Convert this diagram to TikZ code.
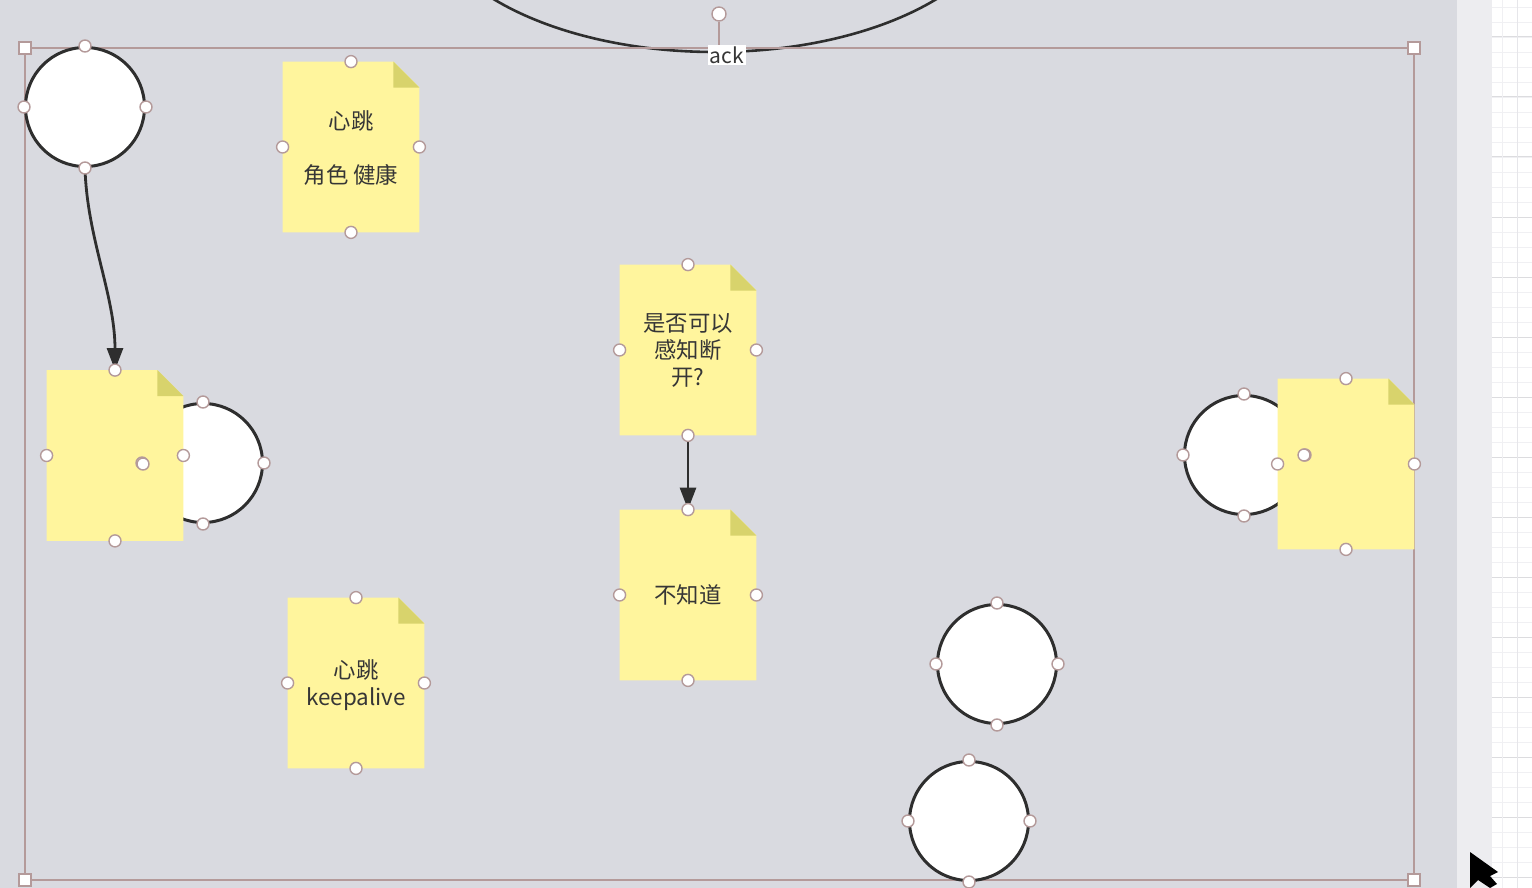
\documentclass[tikz,border=0pt]{standalone}
\usepackage{fontspec}
\newfontfamily\cjk{Noto Sans CJK SC}
\usetikzlibrary{arrows.meta,shapes.geometric}
\definecolor{canvas}{HTML}{D9DAE0}
\definecolor{strip}{HTML}{EDEDF0}
\definecolor{gridc}{HTML}{E6E6EA}
\definecolor{notefill}{HTML}{FFF59D}
\definecolor{notefold}{HTML}{D8D36C}
\definecolor{selc}{HTML}{B49A9A}
\definecolor{ink}{HTML}{2E2E2E}
\definecolor{txt}{HTML}{363636}
\tikzset{
  notebox/.style={rectangle, minimum width=68pt, minimum height=85pt, inner sep=0pt,
    font=\cjk\fontsize{11.2}{13.5}\selectfont, text=txt, align=center},
  ring/.style={circle, draw=ink, line width=1.5pt, fill=white, minimum size=59.5pt, inner sep=0pt},
  handle/.style={circle, draw=selc, fill=white, line width=0.7pt, minimum size=6pt, inner sep=0pt},
  sqhandle/.style={rectangle, draw=selc, fill=white, line width=0.7pt, minimum size=6pt, inner sep=0pt},
  link/.style={draw=ink, line width=1.4pt, -{Triangle[length=11pt,width=8pt]}}
}
\newcommand\drawsticky[1]{%
  \fill[notefill] (#1.north west) -- ([xshift=-13pt]#1.north east) -- ([yshift=-13pt]#1.north east) -- (#1.south east) -- (#1.south west) -- cycle;
  \fill[notefold] ([xshift=-13pt]#1.north east) -- ([xshift=-13pt,yshift=-13pt]#1.north east) -- ([yshift=-13pt]#1.north east) -- cycle;
}
\begin{document}
\begin{tikzpicture}[x=0.5pt,y=-0.5pt]
\useasboundingbox (0,0) rectangle (1532,888);
\clip (0,0) rectangle (1532,888);
% backgrounds
\fill[canvas] (0,0) rectangle (1457,888);
\fill[strip] (1457,0) rectangle (1492,888);
\fill[white] (1492,0) rectangle (1532,888);
\foreach \yy in {7,22,...,888} \draw[gridc!60,line width=0.3pt] (1492,\yy) -- (1532,\yy);
\foreach \yy in {37,97,...,888} \draw[gridc!90!gray,line width=0.5pt] (1492,\yy) -- (1532,\yy);
\draw[gridc,line width=0.4pt] (1517,0) -- (1517,888);
\draw[gridc!60,line width=0.3pt] (1502,0) -- (1502,888);

% top ellipse
\node[ellipse, draw=ink, line width=1.3pt, minimum width=292pt, minimum height=152pt, inner sep=0pt] (top) at (715,-100) {};

% selection frame
\draw[selc, line width=0.8pt] (25,48) rectangle (1414,880);

% circles behind notes
\node[ring] (c2) at (203,463) {};
\node[ring] (c3) at (1244,455) {};

% notes
\node[notebox] (n1) at (351,147) {};
\drawsticky{n1}
\node[notebox, yshift=-0.5pt] at (n1.center) {心跳\\[2.2ex]角色 健康};

\node[notebox] (n2) at (115,455.5) {};
\drawsticky{n2}

\node[notebox] (n3) at (688,350) {};
\drawsticky{n3}
\node[notebox] at (n3.center) {是否可以\\感知断\\开?};

\node[notebox] (n4) at (688,595) {};
\drawsticky{n4}
\node[notebox] at (n4.center) {不知道};

\node[notebox] (n5) at (356,683) {};
\drawsticky{n5}
\node[notebox, yshift=-1pt] at (n5.center) {心跳\\keepalive};

\node[notebox] (n6) at (1346,464) {};
\drawsticky{n6}

% other circles
\node[ring] (c1) at (85,107) {};
\node[ring] (c4) at (997,664) {};
\node[ring] (c5) at (969,821) {};

% connectors
\draw[link] (c1.south) .. controls +(2,70) and +(0,-75) .. (n2.north);
\draw[link] (n3.south) -- (n4.north);

% rotation handle and label
\node[handle, minimum size=7pt] (rot) at (719,14) {};
\draw[selc, line width=0.8pt] (rot.south) -- (719,48);
\node[fill=white, inner sep=1pt, font=\cjk\fontsize{10.5}{12}\selectfont, text=txt] (ack) at (727,55) {ack};

% corner handles
\foreach \p in {(25,48),(1414,48),(25,880),(1414,880)} \node[sqhandle] at \p {};

% connection handles
\foreach \n in {n1,n2,n3,n4,n5,n6,c1,c2,c3,c4,c5}
  \foreach \a in {north,south,east,west}
    \node[handle] at (\n.\a) {};
\node[handle] at (143,464) {};
\node[handle] at (1304,455) {};

% mouse pointer
\fill[black] (1470,852) -- (1470,888) -- (1478,880) -- (1490,888) -- (1497,884) -- (1490,876) -- (1498,872) -- cycle;
\end{tikzpicture}
\end{document}
